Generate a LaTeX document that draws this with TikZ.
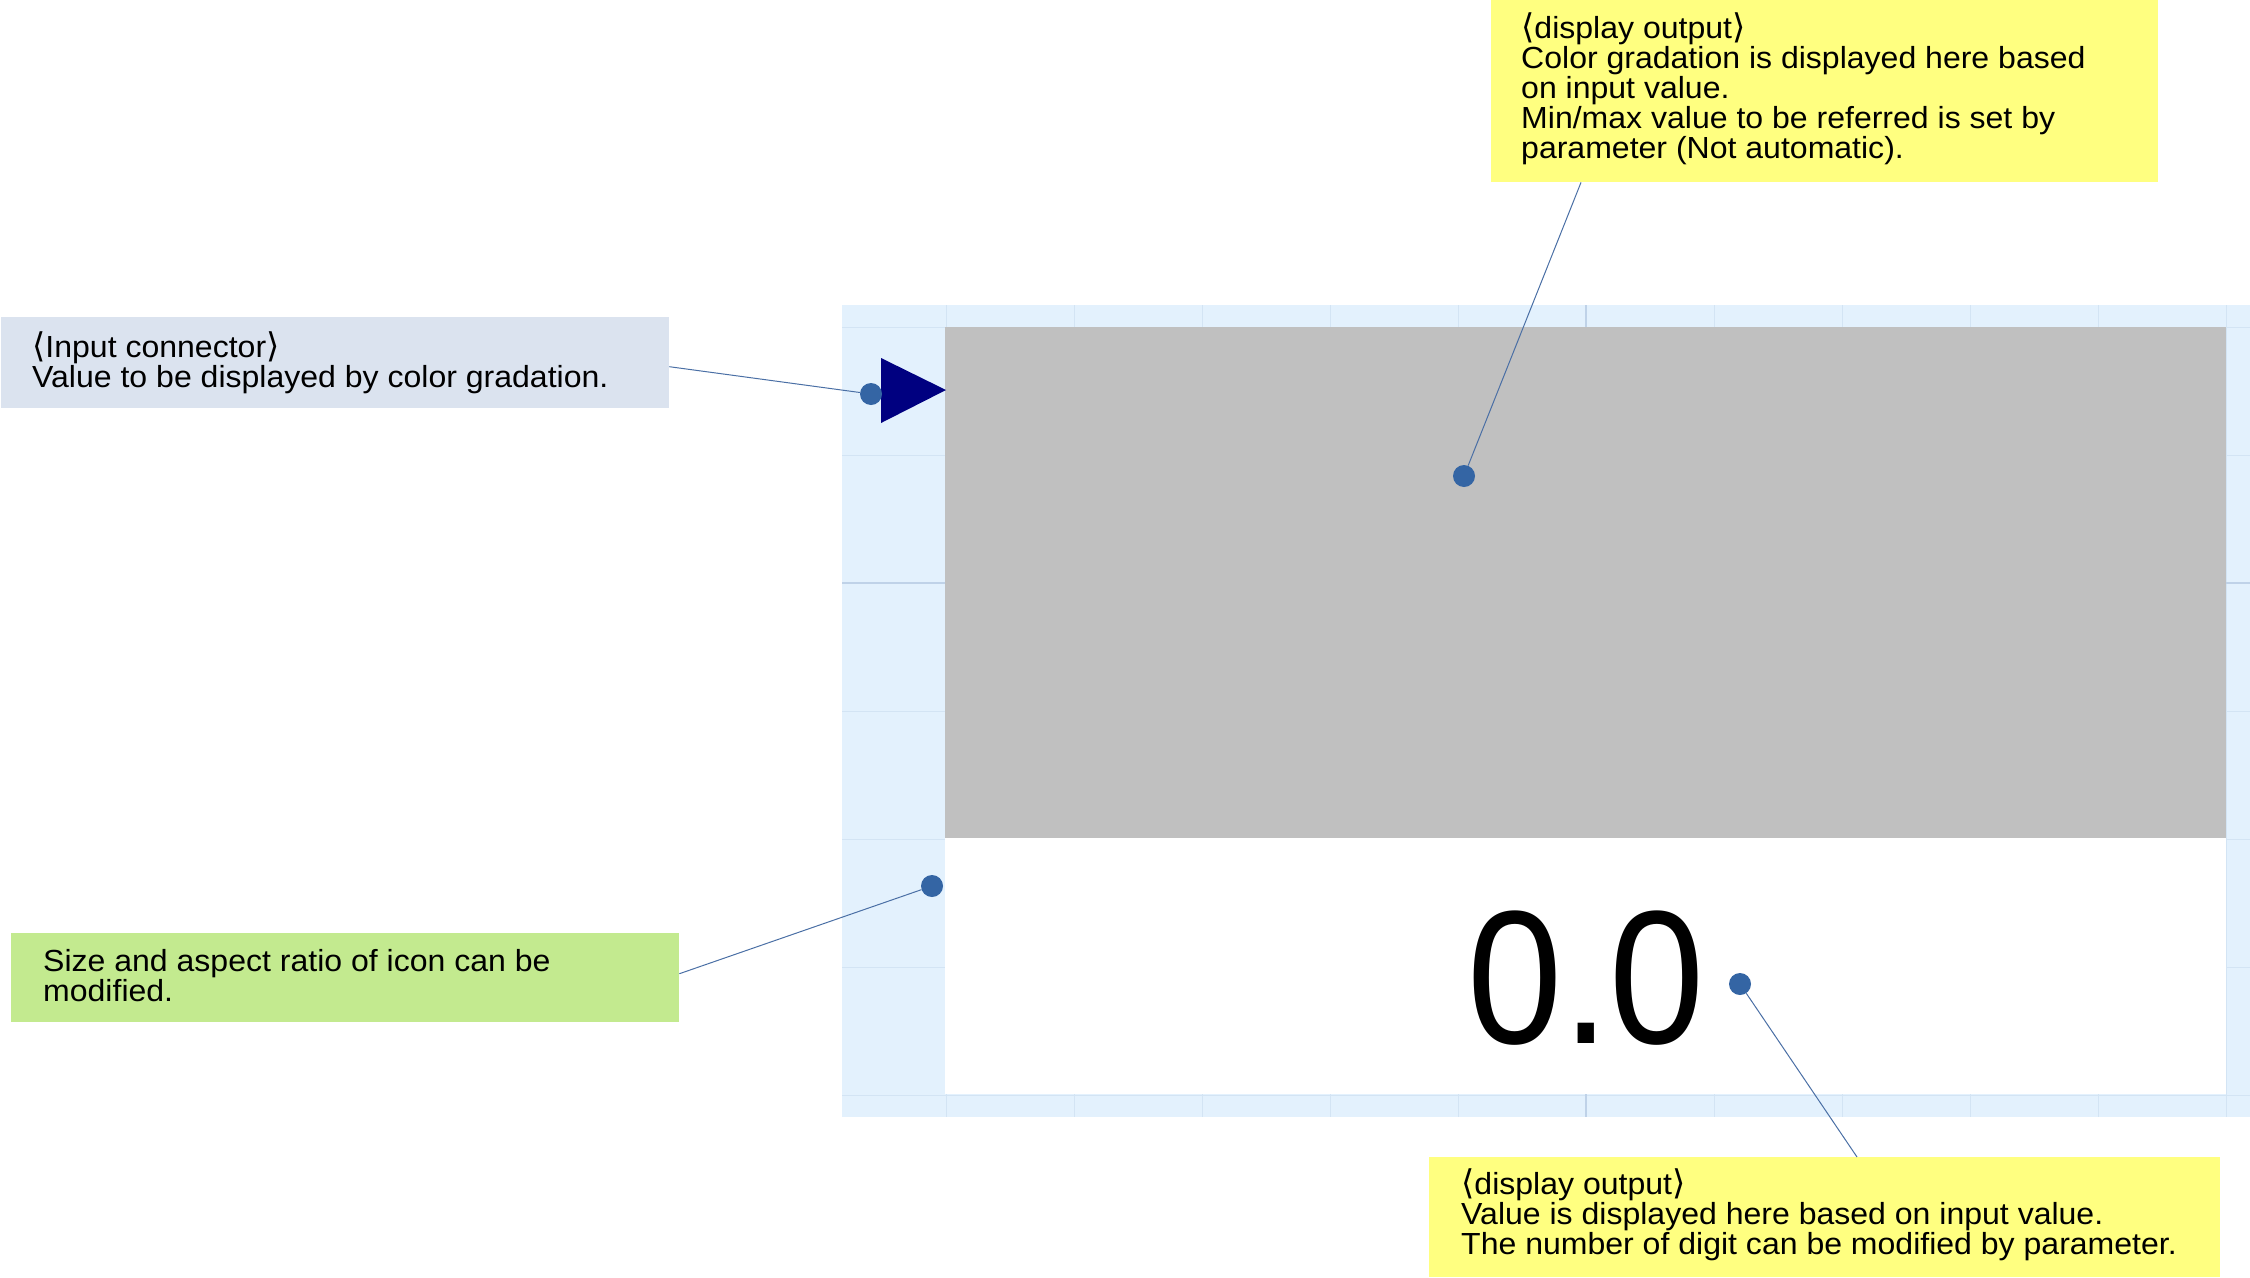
\documentclass[tikz,border=0pt]{standalone}
\usepackage{fontspec}
\setmainfont[FakeStretch=1.05]{Liberation Sans}
\newfontfamily\digitfont[FakeStretch=0.9]{Liberation Sans}
\newfontfamily\brfont{DejaVu Sans}
\newcommand{\myla}{{\brfont\fontsize{34}{30}\selectfont ⟨}}
\newcommand{\myra}{{\brfont\fontsize{34}{30}\selectfont ⟩}}
\definecolor{panelbg}{HTML}{E3F1FD}
\definecolor{gridln}{HTML}{D3E4F4}
\definecolor{gridmaj}{HTML}{BFD2E8}
\definecolor{grayfill}{HTML}{C0C0C0}
\definecolor{navytri}{HTML}{000080}
\definecolor{dotblue}{HTML}{3465A4}
\definecolor{leader}{HTML}{4A6FA5}
\definecolor{inboxfill}{HTML}{DBE3EF}
\definecolor{yellowfill}{HTML}{FFFF80}
\definecolor{greenfill}{HTML}{C3EA8F}
\begin{document}
\begin{tikzpicture}[x=1pt,y=-1pt,
  notebox/.style={draw=none,inner sep=0pt,anchor=north west},
  notetext/.style={inner sep=0pt,anchor=west,align=left,font=\fontsize{30.5}{30}\selectfont},
  dotmark/.style={circle,fill=dotblue,draw=none,minimum size=22pt,inner sep=0pt},
  leaderline/.style={draw=leader,line width=1pt}]
\useasboundingbox (0,0) rectangle (2250,1277);
% panel with grid
\fill[panelbg] (842,305) rectangle (2250,1117);
\foreach \i in {0,...,10} {
  \draw[gridln,line width=1pt] (946+128*\i,305) -- (946+128*\i,1117);
}
\foreach \j in {0,...,6} {
  \draw[gridln,line width=1pt] (842,327+128*\j) -- (2250,327+128*\j);
}
\draw[gridmaj,line width=1.5pt] (1586,305) -- (1586,1117);
\draw[gridmaj,line width=1.5pt] (842,583) -- (2250,583);
% display areas
\node[notebox,fill=grayfill,minimum width=1281pt,minimum height=511pt] (grad) at (945,327) {};
\node[notebox,fill=white,minimum width=1281pt,minimum height=256pt] (numarea) at (945,838) {};
% input triangle
\fill[navytri] (881,358) -- (946,390) -- (881,423) -- cycle;
% value
\node[inner sep=0pt,anchor=base,font=\digitfont\fontsize{190}{190}\selectfont] (val) at (1586,1043) {0.0};
% note boxes
\node[notebox,fill=inboxfill,minimum width=668pt,minimum height=91pt] (inbox) at (1,317) {};
\node[notetext] (intext) at ([xshift=31pt]inbox.west) {\myla Input connector\myra\\Value to be displayed by color gradation.};
\node[notebox,fill=yellowfill,minimum width=667pt,minimum height=182pt] (topbox) at (1491,0) {};
\node[notetext] (toptext) at ([xshift=30pt,yshift=2pt]topbox.west) {\myla display output\myra\\Color gradation is displayed here based\\on input value.\\Min/max value to be referred is set by\\parameter (Not automatic).};
\node[notebox,fill=greenfill,minimum width=668pt,minimum height=89pt] (greenbox) at (11,933) {};
\node[notetext] (greentext) at ([xshift=32pt,yshift=2pt]greenbox.west) {Size and aspect ratio of icon can be\\modified.};
\node[notebox,fill=yellowfill,minimum width=791pt,minimum height=120pt] (botbox) at (1429,1157) {};
\node[notetext] (bottext) at ([xshift=32pt,yshift=2pt]botbox.west) {\myla display output\myra\\Value is displayed here based on input value.\\The number of digit can be modified by parameter.};
% dots
\node[dotmark] (d1) at (871,394) {};
\node[dotmark] (d2) at (1464,476) {};
\node[dotmark] (d3) at (932,886) {};
\node[dotmark] (d4) at (1740,984) {};
% leaders
\draw[leaderline] ([yshift=-4pt]inbox.east) -- (d1);
\draw[leaderline] ([xshift=90pt]topbox.south west) -- (d2);
\draw[leaderline] ([yshift=4pt]greenbox.east) -- (d3);
\draw[leaderline] ([xshift=428pt]botbox.north west) -- (d4);
\end{tikzpicture}
\end{document}
